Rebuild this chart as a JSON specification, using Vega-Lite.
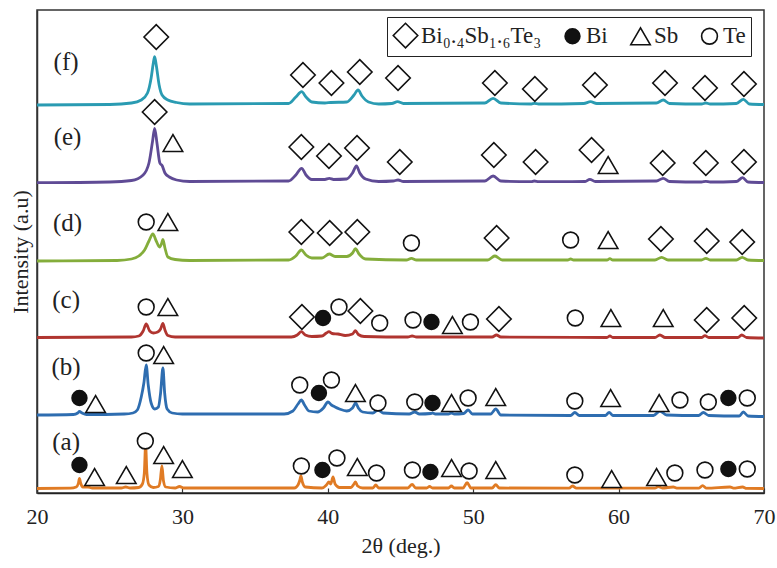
{
  "$schema": "https://vega.github.io/schema/vega-lite/v6.json",
  "width": 727,
  "height": 483,
  "autosize": {"type": "none"},
  "padding": {"left": 37, "top": 10, "right": 13, "bottom": 75},
  "background": "white",
  "config": {
    "view": {"stroke": "#333", "strokeWidth": 1.5},
    "font": "Liberation Serif"
  },
  "datasets": {
    "lines": [
      {"s":"a","x":20,"y":4.5},{"s":"a","x":22.3,"y":4.8},{"s":"a","x":22.7,"y":6},{"s":"a","x":22.85,"y":10},{"s":"a","x":22.92,"y":14.5},{"s":"a","x":23.0,"y":10},{"s":"a","x":23.15,"y":6},{"s":"a","x":23.5,"y":6},{"s":"a","x":23.8,"y":5},{"s":"a","x":25.8,"y":5},{"s":"a","x":26.1,"y":6},{"s":"a","x":26.4,"y":5},{"s":"a","x":27.0,"y":5.5},{"s":"a","x":27.25,"y":9},{"s":"a","x":27.38,"y":20},{"s":"a","x":27.47,"y":48},{"s":"a","x":27.56,"y":20},{"s":"a","x":27.7,"y":8},{"s":"a","x":28.0,"y":5.5},{"s":"a","x":28.35,"y":6.5},{"s":"a","x":28.48,"y":13},{"s":"a","x":28.59,"y":27},{"s":"a","x":28.7,"y":12},{"s":"a","x":28.85,"y":6},{"s":"a","x":29.5,"y":5},{"s":"a","x":29.8,"y":6.5},{"s":"a","x":30.1,"y":5},{"s":"a","x":37.7,"y":5},{"s":"a","x":37.95,"y":8},{"s":"a","x":38.08,"y":13},{"s":"a","x":38.15,"y":17},{"s":"a","x":38.25,"y":11},{"s":"a","x":38.45,"y":6},{"s":"a","x":39.6,"y":5},{"s":"a","x":39.9,"y":8},{"s":"a","x":40.08,"y":11},{"s":"a","x":40.2,"y":9},{"s":"a","x":40.36,"y":16},{"s":"a","x":40.5,"y":9},{"s":"a","x":40.8,"y":5.5},{"s":"a","x":41.6,"y":5.5},{"s":"a","x":41.8,"y":9},{"s":"a","x":41.9,"y":11},{"s":"a","x":42.05,"y":7},{"s":"a","x":42.4,"y":5},{"s":"a","x":43.1,"y":5},{"s":"a","x":43.3,"y":8},{"s":"a","x":43.5,"y":5},{"s":"a","x":45.5,"y":5},{"s":"a","x":45.8,"y":8.7},{"s":"a","x":46.05,"y":5},{"s":"a","x":46.8,"y":5},{"s":"a","x":47.0,"y":6.5},{"s":"a","x":47.2,"y":5},{"s":"a","x":48.3,"y":5},{"s":"a","x":48.5,"y":7},{"s":"a","x":48.7,"y":5},{"s":"a","x":49.3,"y":5},{"s":"a","x":49.58,"y":10.3},{"s":"a","x":49.85,"y":5},{"s":"a","x":51.3,"y":5},{"s":"a","x":51.55,"y":8.3},{"s":"a","x":51.8,"y":5},{"s":"a","x":56.6,"y":4.8},{"s":"a","x":56.83,"y":7},{"s":"a","x":57.1,"y":4.8},{"s":"a","x":62.5,"y":4.8},{"s":"a","x":62.73,"y":6.3},{"s":"a","x":63.0,"y":5},{"s":"a","x":63.76,"y":6},{"s":"a","x":64.0,"y":4.8},{"s":"a","x":65.5,"y":4.8},{"s":"a","x":65.78,"y":7.3},{"s":"a","x":66.05,"y":4.8},{"s":"a","x":67.66,"y":6},{"s":"a","x":67.9,"y":4.8},{"s":"a","x":68.53,"y":6},{"s":"a","x":68.8,"y":4.6},{"s":"a","x":70,"y":4.5},

      {"s":"b","x":20,"y":78},{"s":"b","x":22.5,"y":78.5},{"s":"b","x":22.8,"y":80},{"s":"b","x":22.92,"y":81.5},{"s":"b","x":23.1,"y":80},{"s":"b","x":23.4,"y":78.5},{"s":"b","x":26.0,"y":79},{"s":"b","x":26.6,"y":80},{"s":"b","x":26.9,"y":83},{"s":"b","x":27.17,"y":96},{"s":"b","x":27.35,"y":110},{"s":"b","x":27.51,"y":128},{"s":"b","x":27.65,"y":108},{"s":"b","x":27.85,"y":90},{"s":"b","x":28.1,"y":84},{"s":"b","x":28.35,"y":86},{"s":"b","x":28.5,"y":100},{"s":"b","x":28.66,"y":125},{"s":"b","x":28.78,"y":100},{"s":"b","x":28.95,"y":84},{"s":"b","x":29.3,"y":80},{"s":"b","x":30.0,"y":79},{"s":"b","x":37.0,"y":79},{"s":"b","x":37.6,"y":82},{"s":"b","x":37.95,"y":89},{"s":"b","x":38.18,"y":93},{"s":"b","x":38.4,"y":88},{"s":"b","x":38.7,"y":82},{"s":"b","x":39.3,"y":81},{"s":"b","x":39.7,"y":85},{"s":"b","x":40.01,"y":91},{"s":"b","x":40.25,"y":88},{"s":"b","x":40.5,"y":86},{"s":"b","x":40.8,"y":84},{"s":"b","x":41.3,"y":82},{"s":"b","x":41.7,"y":85},{"s":"b","x":41.92,"y":90},{"s":"b","x":42.1,"y":85},{"s":"b","x":42.4,"y":81},{"s":"b","x":43.1,"y":80},{"s":"b","x":43.45,"y":83},{"s":"b","x":43.8,"y":80},{"s":"b","x":45.6,"y":79},{"s":"b","x":45.98,"y":81},{"s":"b","x":46.3,"y":79},{"s":"b","x":47.1,"y":79.5},{"s":"b","x":47.2,"y":80},{"s":"b","x":47.4,"y":79},{"s":"b","x":48.3,"y":79},{"s":"b","x":48.5,"y":80},{"s":"b","x":48.7,"y":79},{"s":"b","x":49.35,"y":79.5},{"s":"b","x":49.65,"y":83},{"s":"b","x":49.95,"y":79},{"s":"b","x":51.2,"y":79},{"s":"b","x":51.55,"y":84},{"s":"b","x":51.9,"y":78},{"s":"b","x":56.7,"y":77.5},{"s":"b","x":56.99,"y":80.5},{"s":"b","x":57.3,"y":77.5},{"s":"b","x":59.1,"y":77.5},{"s":"b","x":59.35,"y":80.7},{"s":"b","x":59.6,"y":77.5},{"s":"b","x":62.4,"y":77.5},{"s":"b","x":62.84,"y":82},{"s":"b","x":63.3,"y":78},{"s":"b","x":65.5,"y":77.5},{"s":"b","x":65.83,"y":80.5},{"s":"b","x":66.2,"y":77.5},{"s":"b","x":68.3,"y":77},{"s":"b","x":68.58,"y":81},{"s":"b","x":68.9,"y":77},{"s":"b","x":70,"y":76.5},

      {"s":"c","x":20,"y":155.5},{"s":"c","x":26.5,"y":156},{"s":"c","x":27.0,"y":157},{"s":"c","x":27.3,"y":162},{"s":"c","x":27.51,"y":169},{"s":"c","x":27.75,"y":162},{"s":"c","x":28.0,"y":160},{"s":"c","x":28.3,"y":161},{"s":"c","x":28.5,"y":164},{"s":"c","x":28.66,"y":169.7},{"s":"c","x":28.8,"y":163},{"s":"c","x":29.0,"y":157.5},{"s":"c","x":29.5,"y":156},{"s":"c","x":37.5,"y":156},{"s":"c","x":37.9,"y":158},{"s":"c","x":38.18,"y":161.3},{"s":"c","x":38.45,"y":158},{"s":"c","x":38.9,"y":156.5},{"s":"c","x":39.6,"y":157},{"s":"c","x":39.9,"y":160},{"s":"c","x":40.08,"y":161.3},{"s":"c","x":40.3,"y":159.5},{"s":"c","x":40.7,"y":159},{"s":"c","x":41.2,"y":157.5},{"s":"c","x":41.7,"y":159},{"s":"c","x":41.9,"y":162.3},{"s":"c","x":42.1,"y":158.5},{"s":"c","x":42.5,"y":156.5},{"s":"c","x":45.5,"y":156},{"s":"c","x":45.8,"y":157},{"s":"c","x":46.1,"y":156},{"s":"c","x":51.3,"y":156},{"s":"c","x":51.6,"y":158},{"s":"c","x":51.9,"y":156},{"s":"c","x":59.2,"y":155.5},{"s":"c","x":59.4,"y":157},{"s":"c","x":59.6,"y":155.5},{"s":"c","x":62.5,"y":155.5},{"s":"c","x":62.84,"y":158},{"s":"c","x":63.2,"y":155.5},{"s":"c","x":65.7,"y":155.5},{"s":"c","x":65.94,"y":157.3},{"s":"c","x":66.2,"y":155.5},{"s":"c","x":68.2,"y":155.5},{"s":"c","x":68.47,"y":158},{"s":"c","x":68.8,"y":155.5},{"s":"c","x":70,"y":155},

      {"s":"d","x":20,"y":232},{"s":"d","x":25.5,"y":232.5},{"s":"d","x":26.5,"y":234},{"s":"d","x":27.0,"y":237},{"s":"d","x":27.4,"y":243},{"s":"d","x":27.7,"y":252},{"s":"d","x":27.97,"y":259},{"s":"d","x":28.2,"y":252},{"s":"d","x":28.43,"y":246},{"s":"d","x":28.58,"y":250},{"s":"d","x":28.66,"y":253.7},{"s":"d","x":28.8,"y":245},{"s":"d","x":29.0,"y":236},{"s":"d","x":29.5,"y":233.5},{"s":"d","x":30.5,"y":232.5},{"s":"d","x":37.3,"y":233},{"s":"d","x":37.8,"y":237},{"s":"d","x":38.18,"y":243},{"s":"d","x":38.5,"y":238},{"s":"d","x":38.9,"y":235},{"s":"d","x":39.6,"y":235},{"s":"d","x":40.1,"y":239},{"s":"d","x":40.5,"y":236.5},{"s":"d","x":41.3,"y":236.5},{"s":"d","x":41.7,"y":240},{"s":"d","x":41.9,"y":244.3},{"s":"d","x":42.15,"y":239},{"s":"d","x":42.6,"y":234},{"s":"d","x":45.4,"y":233},{"s":"d","x":45.75,"y":234.7},{"s":"d","x":46.1,"y":233},{"s":"d","x":51.0,"y":233},{"s":"d","x":51.49,"y":237},{"s":"d","x":52.0,"y":233},{"s":"d","x":56.5,"y":233},{"s":"d","x":56.7,"y":234},{"s":"d","x":56.9,"y":233},{"s":"d","x":59.2,"y":233},{"s":"d","x":59.4,"y":234.3},{"s":"d","x":59.6,"y":233},{"s":"d","x":62.5,"y":233},{"s":"d","x":62.96,"y":235.7},{"s":"d","x":63.4,"y":233},{"s":"d","x":65.7,"y":233},{"s":"d","x":66.0,"y":234.7},{"s":"d","x":66.3,"y":233},{"s":"d","x":68.1,"y":233},{"s":"d","x":68.5,"y":235.7},{"s":"d","x":68.9,"y":233},{"s":"d","x":70,"y":232.5},

      {"s":"e","x":20,"y":310.3},{"s":"e","x":25,"y":311},{"s":"e","x":26.5,"y":312.5},{"s":"e","x":27.3,"y":318},{"s":"e","x":27.7,"y":330},{"s":"e","x":27.95,"y":352},{"s":"e","x":28.09,"y":364.7},{"s":"e","x":28.25,"y":350},{"s":"e","x":28.45,"y":330},{"s":"e","x":28.62,"y":327},{"s":"e","x":28.8,"y":320},{"s":"e","x":29.1,"y":316},{"s":"e","x":29.6,"y":313},{"s":"e","x":30.5,"y":311.5},{"s":"e","x":37.3,"y":312},{"s":"e","x":37.8,"y":318},{"s":"e","x":38.2,"y":324.7},{"s":"e","x":38.5,"y":318},{"s":"e","x":38.9,"y":313.5},{"s":"e","x":39.8,"y":313.5},{"s":"e","x":40.1,"y":314.7},{"s":"e","x":40.4,"y":313.5},{"s":"e","x":41.3,"y":314},{"s":"e","x":41.7,"y":320},{"s":"e","x":41.97,"y":327},{"s":"e","x":42.2,"y":320},{"s":"e","x":42.6,"y":314},{"s":"e","x":43.5,"y":311.5},{"s":"e","x":44.5,"y":312},{"s":"e","x":44.83,"y":313},{"s":"e","x":45.2,"y":311.5},{"s":"e","x":50.8,"y":312},{"s":"e","x":51.37,"y":317},{"s":"e","x":51.9,"y":312},{"s":"e","x":54.0,"y":311.3},{"s":"e","x":54.2,"y":312},{"s":"e","x":54.5,"y":311.3},{"s":"e","x":57.7,"y":311.5},{"s":"e","x":58.02,"y":313.7},{"s":"e","x":58.4,"y":311.5},{"s":"e","x":62.6,"y":312},{"s":"e","x":63.07,"y":314.7},{"s":"e","x":63.5,"y":311.5},{"s":"e","x":65.7,"y":311},{"s":"e","x":66.0,"y":311.7},{"s":"e","x":66.3,"y":311},{"s":"e","x":68.1,"y":311.5},{"s":"e","x":68.53,"y":315.3},{"s":"e","x":68.9,"y":311},{"s":"e","x":70,"y":310.5},

      {"s":"f","x":20,"y":388},{"s":"f","x":25,"y":388.5},{"s":"f","x":26.5,"y":390},{"s":"f","x":27.17,"y":393},{"s":"f","x":27.6,"y":400},{"s":"f","x":27.85,"y":415},{"s":"f","x":28.0,"y":430},{"s":"f","x":28.09,"y":436.3},{"s":"f","x":28.2,"y":428},{"s":"f","x":28.4,"y":408},{"s":"f","x":28.6,"y":398},{"s":"f","x":29.0,"y":393},{"s":"f","x":29.6,"y":390.5},{"s":"f","x":30.5,"y":389},{"s":"f","x":37.3,"y":389.5},{"s":"f","x":37.8,"y":396},{"s":"f","x":38.2,"y":401.3},{"s":"f","x":38.5,"y":396},{"s":"f","x":38.9,"y":391},{"s":"f","x":39.8,"y":390},{"s":"f","x":40.2,"y":390.5},{"s":"f","x":41.3,"y":391},{"s":"f","x":41.8,"y":398},{"s":"f","x":42.08,"y":403},{"s":"f","x":42.35,"y":397},{"s":"f","x":42.8,"y":391},{"s":"f","x":43.5,"y":389},{"s":"f","x":44.4,"y":389.5},{"s":"f","x":44.8,"y":391.3},{"s":"f","x":45.2,"y":389.5},{"s":"f","x":50.8,"y":390},{"s":"f","x":51.37,"y":394.7},{"s":"f","x":51.9,"y":390},{"s":"f","x":54.0,"y":389},{"s":"f","x":54.2,"y":389.7},{"s":"f","x":54.5,"y":389},{"s":"f","x":57.6,"y":389.5},{"s":"f","x":58.07,"y":391.3},{"s":"f","x":58.5,"y":389.5},{"s":"f","x":62.6,"y":390},{"s":"f","x":63.07,"y":393},{"s":"f","x":63.5,"y":389.5},{"s":"f","x":65.7,"y":389},{"s":"f","x":66.0,"y":390},{"s":"f","x":66.3,"y":389},{"s":"f","x":68.1,"y":389.5},{"s":"f","x":68.58,"y":393.7},{"s":"f","x":69.0,"y":389},{"s":"f","x":70,"y":388.5}
    ],
    "marks": [
      {"x":28.2,"y":456,"p":"Bi₀.₄Sb₁.₆Te₃"},{"x":38.29,"y":418,"p":"Bi₀.₄Sb₁.₆Te₃"},{"x":40.25,"y":410,"p":"Bi₀.₄Sb₁.₆Te₃"},{"x":42.2,"y":421,"p":"Bi₀.₄Sb₁.₆Te₃"},{"x":44.83,"y":415,"p":"Bi₀.₄Sb₁.₆Te₃"},{"x":51.49,"y":410,"p":"Bi₀.₄Sb₁.₆Te₃"},{"x":54.24,"y":404,"p":"Bi₀.₄Sb₁.₆Te₃"},{"x":58.37,"y":408,"p":"Bi₀.₄Sb₁.₆Te₃"},{"x":63.19,"y":410,"p":"Bi₀.₄Sb₁.₆Te₃"},{"x":65.94,"y":405,"p":"Bi₀.₄Sb₁.₆Te₃"},{"x":68.62,"y":409,"p":"Bi₀.₄Sb₁.₆Te₃"},

      {"x":28.09,"y":381,"p":"Bi₀.₄Sb₁.₆Te₃"},{"x":29.35,"y":350,"p":"Sb"},{"x":38.18,"y":346,"p":"Bi₀.₄Sb₁.₆Te₃"},{"x":40.08,"y":337,"p":"Bi₀.₄Sb₁.₆Te₃"},{"x":42.01,"y":345,"p":"Bi₀.₄Sb₁.₆Te₃"},{"x":44.95,"y":331,"p":"Bi₀.₄Sb₁.₆Te₃"},{"x":51.42,"y":338,"p":"Bi₀.₄Sb₁.₆Te₃"},{"x":54.29,"y":331,"p":"Bi₀.₄Sb₁.₆Te₃"},{"x":58.14,"y":343,"p":"Bi₀.₄Sb₁.₆Te₃"},{"x":59.28,"y":328,"p":"Sb"},{"x":63.03,"y":330,"p":"Bi₀.₄Sb₁.₆Te₃"},{"x":66.0,"y":330,"p":"Bi₀.₄Sb₁.₆Te₃"},{"x":68.62,"y":331,"p":"Bi₀.₄Sb₁.₆Te₃"},

      {"x":27.51,"y":271,"p":"Te"},{"x":29.0,"y":271,"p":"Sb"},{"x":38.18,"y":261,"p":"Bi₀.₄Sb₁.₆Te₃"},{"x":40.13,"y":260,"p":"Bi₀.₄Sb₁.₆Te₃"},{"x":42.03,"y":261,"p":"Bi₀.₄Sb₁.₆Te₃"},{"x":45.75,"y":250,"p":"Te"},{"x":51.61,"y":255,"p":"Bi₀.₄Sb₁.₆Te₃"},{"x":56.7,"y":253,"p":"Te"},{"x":59.28,"y":253,"p":"Sb"},{"x":62.91,"y":254,"p":"Bi₀.₄Sb₁.₆Te₃"},{"x":66.06,"y":252,"p":"Bi₀.₄Sb₁.₆Te₃"},{"x":68.5,"y":251,"p":"Bi₀.₄Sb₁.₆Te₃"},

      {"x":27.51,"y":186,"p":"Te"},{"x":29.0,"y":186,"p":"Sb"},{"x":38.22,"y":176,"p":"Bi₀.₄Sb₁.₆Te₃"},{"x":39.67,"y":175,"p":"Bi"},{"x":40.77,"y":186,"p":"Te"},{"x":42.24,"y":182,"p":"Bi₀.₄Sb₁.₆Te₃"},{"x":43.57,"y":170,"p":"Te"},{"x":45.86,"y":173,"p":"Te"},{"x":47.13,"y":171,"p":"Bi"},{"x":48.57,"y":168,"p":"Sb"},{"x":49.81,"y":171,"p":"Te"},{"x":51.77,"y":174,"p":"Bi₀.₄Sb₁.₆Te₃"},{"x":57.02,"y":175,"p":"Te"},{"x":59.47,"y":175,"p":"Sb"},{"x":63.07,"y":175,"p":"Sb"},{"x":66.06,"y":173,"p":"Bi₀.₄Sb₁.₆Te₃"},{"x":68.64,"y":175,"p":"Bi₀.₄Sb₁.₆Te₃"},

      {"x":22.92,"y":95,"p":"Bi"},{"x":24.03,"y":89,"p":"Sb"},{"x":27.51,"y":140,"p":"Te"},{"x":28.71,"y":138,"p":"Sb"},{"x":38.07,"y":108,"p":"Te"},{"x":39.39,"y":100,"p":"Bi"},{"x":40.25,"y":113,"p":"Te"},{"x":41.9,"y":100,"p":"Sb"},{"x":43.45,"y":90,"p":"Te"},{"x":45.98,"y":91,"p":"Te"},{"x":47.2,"y":90,"p":"Bi"},{"x":48.51,"y":90,"p":"Sb"},{"x":49.65,"y":95,"p":"Te"},{"x":51.55,"y":96,"p":"Sb"},{"x":56.99,"y":92,"p":"Te"},{"x":59.45,"y":95,"p":"Sb"},{"x":62.79,"y":90,"p":"Sb"},{"x":64.22,"y":93,"p":"Te"},{"x":66.17,"y":91,"p":"Te"},{"x":67.55,"y":95,"p":"Bi"},{"x":68.85,"y":95,"p":"Te"},

      {"x":22.92,"y":28,"p":"Bi"},{"x":23.96,"y":16,"p":"Sb"},{"x":26.14,"y":18,"p":"Sb"},{"x":27.45,"y":52,"p":"Te"},{"x":28.71,"y":38,"p":"Sb"},{"x":30.0,"y":24,"p":"Sb"},{"x":38.18,"y":27,"p":"Te"},{"x":39.63,"y":23,"p":"Bi"},{"x":40.63,"y":35,"p":"Te"},{"x":42.03,"y":26,"p":"Sb"},{"x":43.35,"y":20,"p":"Te"},{"x":45.82,"y":23,"p":"Te"},{"x":47.06,"y":21,"p":"Bi"},{"x":48.51,"y":25,"p":"Sb"},{"x":49.72,"y":22,"p":"Te"},{"x":51.55,"y":23,"p":"Sb"},{"x":56.99,"y":18,"p":"Te"},{"x":59.52,"y":14,"p":"Sb"},{"x":62.61,"y":16,"p":"Sb"},{"x":63.87,"y":20,"p":"Te"},{"x":65.94,"y":23,"p":"Te"},{"x":67.55,"y":24,"p":"Bi"},{"x":68.85,"y":24,"p":"Te"}
    ],
    "labels": [
      {"x":22.0,"y":431,"t":"(f)"},{"x":22.1,"y":356,"t":"(e)"},{"x":22.1,"y":270,"t":"(d)"},{"x":22.0,"y":193,"t":"(c)"},{"x":22.0,"y":126,"t":"(b)"},{"x":22.0,"y":51,"t":"(a)"}
    ]
  },
  "layer": [
    {
      "data": {"name": "lines"},
      "mark": {"type": "line", "interpolate": "monotone", "strokeWidth": 2.8},
      "encoding": {
        "x": {"field": "x", "type": "quantitative",
              "scale": {"domain": [20, 70], "nice": false, "zero": false},
              "axis": {"values": [20, 30, 40, 50, 60, 70], "title": "2θ (deg.)", "grid": false,
                       "labelFont": "Liberation Serif", "labelFontSize": 22, "labelColor": "#222",
                       "titleFont": "Liberation Serif", "titleFontSize": 22, "titleFontWeight": "normal", "titleColor": "#222",
                       "tickSize": -5, "tickColor": "#333", "tickWidth": 1.2, "labelPadding": 18, "titlePadding": 8,
                       "domainColor": "#222", "domainWidth": 1.5, "labelFlush": false}},
        "y": {"field": "y", "type": "quantitative",
              "scale": {"domain": [0, 483], "nice": false, "zero": false},
              "axis": {"title": "Intensity (a.u)", "labels": false, "ticks": false, "grid": false,
                       "titleFont": "Liberation Serif", "titleFontSize": 22, "titleFontWeight": "normal", "titleColor": "#222",
                       "titlePadding": 5, "domainColor": "#333", "domainWidth": 1.5}},
        "color": {"field": "s", "type": "nominal",
                  "scale": {"domain": ["a","b","c","d","e","f"],
                            "range": ["#e07b24","#2e6db0","#b03530","#84ad3b","#5f4b95","#2a9bb2"]},
                  "legend": null}
      }
    },
    {
      "data": {"name": "marks"},
      "mark": {"type": "point", "filled": true, "stroke": "#111", "strokeWidth": 1.6, "strokeOpacity": 1, "opacity": 1},
      "encoding": {
        "x": {"field": "x", "type": "quantitative"},
        "y": {"field": "y", "type": "quantitative"},
        "shape": {"field": "p", "type": "nominal",
                  "scale": {"domain": ["Bi₀.₄Sb₁.₆Te₃","Bi","Sb","Te"], "range": ["diamond","circle","triangle-up","circle"]},
                  "legend": {"title": null, "orient": "none", "legendX": 350, "legendY": 7, "direction": "horizontal",
                             "strokeColor": "#222", "padding": 5, "labelFont": "Liberation Serif", "labelFontSize": 23,
                             "labelColor": "#222", "symbolStrokeColor": "#111", "symbolStrokeWidth": 1.6,
                             "columnPadding": 19, "labelOffset": 2, "symbolOpacity": 1}},
        "fill": {"field": "p", "type": "nominal",
                 "scale": {"domain": ["Bi₀.₄Sb₁.₆Te₃","Bi","Sb","Te"], "range": ["white","#111","white","white"]}},
        "size": {"field": "p", "type": "nominal",
                 "scale": {"type": "ordinal", "domain": ["Bi₀.₄Sb₁.₆Te₃","Bi","Sb","Te"], "range": [600, 220, 380, 250]}}
      }
    },
    {
      "data": {"name": "labels"},
      "mark": {"type": "text", "font": "Liberation Serif", "fontSize": 25, "color": "#222", "align": "center", "baseline": "middle"},
      "encoding": {
        "x": {"field": "x", "type": "quantitative"},
        "y": {"field": "y", "type": "quantitative"},
        "text": {"field": "t"}
      }
    }
  ]
}
